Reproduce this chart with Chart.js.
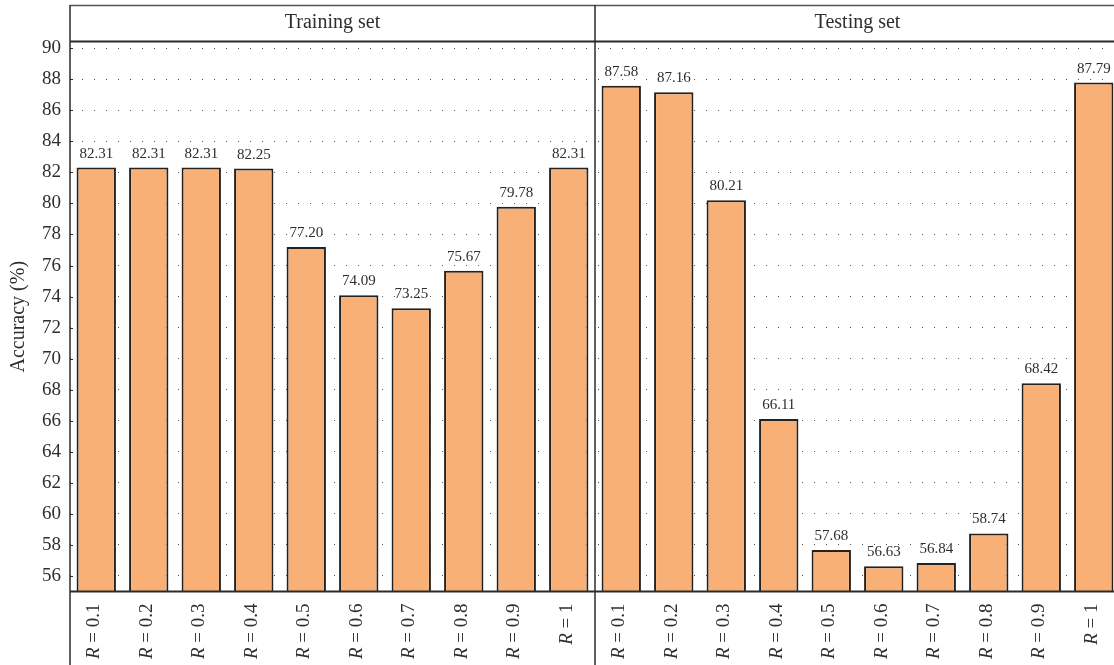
<!DOCTYPE html>
<html><head><meta charset="utf-8">
<script src="https://cdn.jsdelivr.net/npm/chart.js@4"></script>
<style>
html,body{margin:0;padding:0;overflow:hidden;background:#fff;width:1114px;height:665px}
#wrap{position:relative;width:1120px;height:665px}
</style></head>
<body><div id="wrap"><canvas id="c" width="1120" height="665"></canvas></div>
<script>
const panelTitles = ["Training set", "Testing set"];
const rValues = ["0.1", "0.2", "0.3", "0.4", "0.5", "0.6", "0.7", "0.8", "0.9", "1"];
const trainingAcc = [82.31, 82.31, 82.31, 82.25, 77.20, 74.09, 73.25, 75.67, 79.78, 82.31];
const testingAcc = [87.58, 87.16, 80.21, 66.11, 57.68, 56.63, 56.84, 58.74, 68.42, 87.79];
const yTicks = [56, 58, 60, 62, 64, 66, 68, 70, 72, 74, 76, 78, 80, 82, 84, 86, 88, 90];
const yMin = 55, yMax = 90.4;

const categories = rValues.map(r => "R = " + r).concat(rValues.map(r => "R = " + r));
const allValues = trainingAcc.concat(testingAcc);
const SERIF = '"Liberation Serif", "DejaVu Serif", serif';
const TXT = '#2e2e2e';
const LINE = '#2b2b2b';

const decor = {
  id: 'decor',
  afterDatasetsDraw(chart) {
    const ctx = chart.ctx;
    const meta = chart.getDatasetMeta(0);
    ctx.save();
    ctx.fillStyle = TXT;
    ctx.font = '15px ' + SERIF;
    ctx.textAlign = 'center';
    ctx.textBaseline = 'alphabetic';
    meta.data.forEach((bar, i) => {
      ctx.fillText(allValues[i].toFixed(2), bar.x, bar.y - 10);
    });
    ctx.restore();
  },
  afterDraw(chart) {
    const ctx = chart.ctx;
    const xs = chart.scales.x, ys = chart.scales.y;
    const ca = chart.chartArea;
    const H = chart.height;
    const mid = (xs.getPixelForValue(9) + xs.getPixelForValue(10)) / 2;
    ctx.save();
    ctx.strokeStyle = '#555';
    ctx.lineWidth = 1.5;
    ctx.beginPath(); ctx.moveTo(ca.left, 5.5); ctx.lineTo(ca.right, 5.5); ctx.stroke();
    ctx.strokeStyle = LINE;
    ctx.lineWidth = 2;
    ctx.beginPath(); ctx.moveTo(ca.left, ca.top - 0.5); ctx.lineTo(ca.right, ca.top - 0.5); ctx.stroke();
    ctx.beginPath(); ctx.moveTo(ca.left, ca.bottom); ctx.lineTo(ca.right, ca.bottom); ctx.stroke();
    ctx.lineWidth = 1.5;
    ctx.beginPath(); ctx.moveTo(ca.left, 5); ctx.lineTo(ca.left, H); ctx.stroke();
    ctx.beginPath(); ctx.moveTo(mid, 5); ctx.lineTo(mid, H); ctx.stroke();
    ctx.lineWidth = 1;
    yTicks.forEach(v => {
      const y = Math.round(ys.getPixelForValue(v)) + 0.5;
      ctx.beginPath(); ctx.moveTo(ca.left, y); ctx.lineTo(ca.left + 3, y); ctx.stroke();
    });
    ctx.fillStyle = TXT;
    ctx.font = '20px ' + SERIF;
    ctx.textAlign = 'center';
    ctx.textBaseline = 'middle';
    ctx.fillText(panelTitles[0], (ca.left + mid) / 2, 23);
    ctx.fillText(panelTitles[1], (mid + ca.right) / 2, 23);
    const top = ca.bottom + 12;
    categories.forEach((lab, i) => {
      const x = xs.getPixelForValue(i) - 2;
      const rest = lab.slice(1);
      ctx.save();
      ctx.translate(x, top);
      ctx.rotate(-Math.PI / 2);
      ctx.textBaseline = 'middle';
      ctx.textAlign = 'left';
      ctx.font = 'italic 19px ' + SERIF;
      const wR = ctx.measureText('R').width;
      ctx.font = '19px ' + SERIF;
      const wRest = ctx.measureText(rest).width;
      const start = -(wR + wRest);
      ctx.font = 'italic 19px ' + SERIF;
      ctx.fillText('R', start, 0);
      ctx.font = '19px ' + SERIF;
      ctx.fillText(rest, start + wR, 0);
      ctx.restore();
    });
    ctx.restore();
  }
};

new Chart(document.getElementById('c'), {
  type: 'bar',
  data: {
    labels: categories,
    datasets: [{
      data: allValues,
      backgroundColor: '#F8B077',
      borderColor: '#222',
      borderWidth: 2,
      barPercentage: 0.75,
      categoryPercentage: 1.0
    }]
  },
  options: {
    responsive: false,
    devicePixelRatio: 1,
    animation: false,
    layout: { padding: { top: 42, left: 0, right: 0, bottom: 0 } },
    plugins: { legend: { display: false }, tooltip: { enabled: false } },
    scales: {
      x: {
        ticks: { display: false },
        grid: { display: false },
        border: { display: false },
        afterFit(scale) { scale.height = 73.5; }
      },
      y: {
        min: yMin, max: yMax,
        afterBuildTicks(scale) { scale.ticks = yTicks.map(v => ({ value: v })); },
        ticks: {
          color: TXT,
          font: { family: SERIF, size: 19 },
          padding: 9
        },
        grid: { color: '#555', lineWidth: 1, drawTicks: false },
        border: { display: false, dash: [1, 11] },
        title: {
          display: true,
          text: 'Accuracy (%)',
          color: TXT,
          font: { family: SERIF, size: 20 },
          padding: { top: 7, bottom: 0 }
        },
        afterFit(scale) { scale.width = 70; }
      }
    }
  },
  plugins: [decor]
});
</script>
</body></html>
